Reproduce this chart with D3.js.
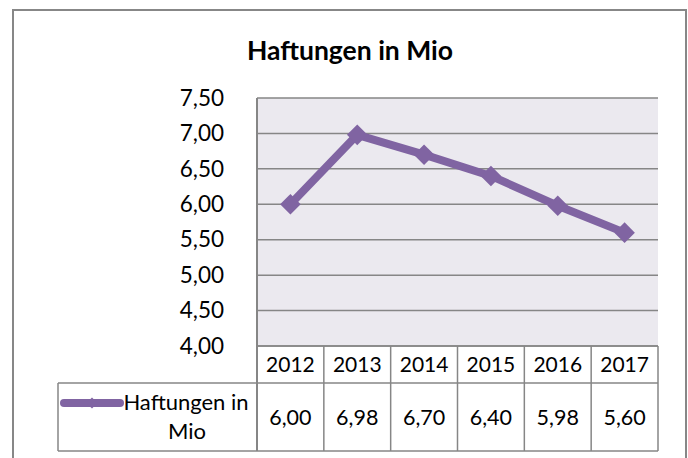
<!DOCTYPE html>
<html><head><meta charset="utf-8">
<script src="https://cdn.jsdelivr.net/npm/d3@7"></script>
<style>html,body{margin:0;padding:0;background:#fff;}svg{display:block;font-family:Lato,"Open Sans",sans-serif;}</style>
</head><body>
<script>
const title = "Haftungen in Mio";
const seriesName = "Haftungen in Mio";
const years = ["2012","2013","2014","2015","2016","2017"];
const values = [6.00, 6.98, 6.70, 6.40, 5.98, 5.60];
const yTicks = [4.0, 4.5, 5.0, 5.5, 6.0, 6.5, 7.0, 7.5];

const W = 688, H = 458;
const fmt = v => d3.format(".2f")(v).replace(".", ",");
const color = "#8064A2";
const gridColor = "#868686";

const svg = d3.select("body").append("svg").attr("width", W).attr("height", H);

// outer frame
svg.append("rect").attr("x", 13).attr("y", 10).attr("width", 673).attr("height", 470)
  .attr("fill", "#fff").attr("stroke", "#878787").attr("stroke-width", 2);

const x = d3.scaleBand().domain(years).range([257, 658]).padding(0);
const y = d3.scaleLinear().domain([4, 7.5]).range([346, 98]);

// title
svg.append("text").attr("x", 350).attr("y", 60).attr("text-anchor", "middle")
  .attr("font-weight", "bold").attr("font-size", 26.5).attr("fill", "#000").text(title);

// plot background
svg.append("rect").attr("x", x.range()[0]).attr("y", y(7.5))
  .attr("width", x.range()[1] - x.range()[0]).attr("height", y(4) - y(7.5))
  .attr("fill", "#EBE9EF");

// gridlines
svg.append("g").selectAll("line").data(yTicks).join("line")
  .attr("x1", x.range()[0]).attr("x2", x.range()[1])
  .attr("y1", d => y(d)).attr("y2", d => y(d))
  .attr("stroke", gridColor).attr("stroke-width", 1.5);

// y axis
const yAxis = d3.axisLeft(y).tickValues(yTicks).tickFormat(fmt).tickSize(0).tickPadding(33);
const ga = svg.append("g").attr("transform", `translate(${x.range()[0]},0)`).call(yAxis);
ga.select(".domain").remove();
ga.selectAll("text").attr("font-size", 22.5).attr("fill", "#000").attr("font-family", "Lato, sans-serif");

// axis line (left border of plot + table)
svg.append("line").attr("x1", x.range()[0]).attr("x2", x.range()[0])
  .attr("y1", y(7.5)).attr("y2", 451).attr("stroke", gridColor).attr("stroke-width", 2);

// table
const rowTop = y(4), rowMid = 383, rowBot = 451, legL = 58;
const tg = svg.append("g").attr("stroke", gridColor).attr("stroke-width", 1.5);
tg.append("line").attr("x1", x.range()[0]).attr("x2", x.range()[1]).attr("y1", rowTop).attr("y2", rowTop);
tg.append("line").attr("x1", legL).attr("x2", x.range()[1]).attr("y1", rowMid).attr("y2", rowMid);
tg.append("line").attr("x1", legL).attr("x2", x.range()[1]).attr("y1", rowBot).attr("y2", rowBot);
tg.append("line").attr("x1", legL).attr("x2", legL).attr("y1", rowMid).attr("y2", rowBot);
tg.selectAll(".v").data(years).join("line").attr("class", "v")
  .attr("x1", d => x(d) + x.bandwidth()).attr("x2", d => x(d) + x.bandwidth())
  .attr("y1", rowTop).attr("y2", rowBot);

svg.append("g").selectAll("text").data(years).join("text")
  .attr("x", d => x(d) + x.bandwidth() / 2).attr("y", (rowTop + rowMid) / 2 + 7.5)
  .attr("text-anchor", "middle").attr("font-size", 21).attr("fill", "#000").text(d => d);

svg.append("g").selectAll("text").data(values).join("text")
  .attr("x", (d, i) => x(years[i]) + x.bandwidth() / 2).attr("y", (rowMid + rowBot) / 2 + 8)
  .attr("text-anchor", "middle").attr("font-size", 21.5).attr("fill", "#000").text(d => fmt(d));

// legend in table
svg.append("line").attr("x1", 64).attr("x2", 120).attr("y1", 403).attr("y2", 403)
  .attr("stroke", color).attr("stroke-width", 8).attr("stroke-linecap", "round");
svg.append("path").attr("d", d3.symbol(d3.symbolDiamond2, 80)())
  .attr("transform", "translate(92,403)").attr("fill", color);
const lt = svg.append("text").attr("text-anchor", "middle").attr("font-size", 22).attr("fill", "#000");
lt.append("tspan").attr("x", 186).attr("y", 410).text("Haftungen in");
lt.append("tspan").attr("x", 187).attr("y", 439).text("Mio");

// series line
const pts = values.map((v, i) => [x(years[i]) + x.bandwidth() / 2, y(v)]);
svg.append("path").datum(pts).attr("d", d3.line())
  .attr("fill", "none").attr("stroke", color).attr("stroke-width", 8).attr("stroke-linejoin", "round");
svg.append("g").selectAll("path").data(pts).join("path")
  .attr("d", d3.symbol(d3.symbolDiamond2, 270)())
  .attr("transform", d => `translate(${d[0]},${d[1]})`).attr("fill", color);
</script>
</body></html>
